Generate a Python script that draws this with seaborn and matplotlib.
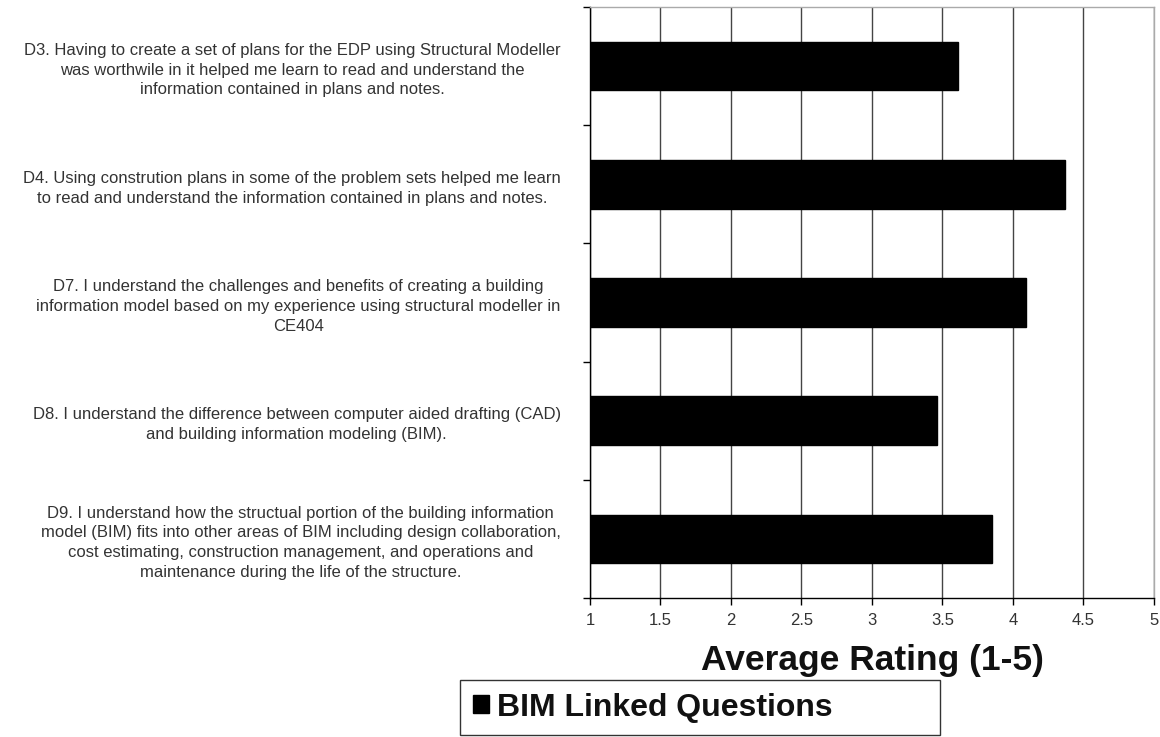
import matplotlib
matplotlib.use("Agg")
import matplotlib.pyplot as plt
import seaborn as sns
import pandas as pd
import numpy as np

# Data
questions = [
    "D3. Having to create a set of plans for the EDP using Structural Modeller\n"
    "was worthwile in it helped me learn to read and understand the\n"
    "information contained in plans and notes.",
    "D4. Using constrution plans in some of the problem sets helped me learn\n"
    "to read and understand the information contained in plans and notes.",
    "D7. I understand the challenges and benefits of creating a building\n"
    "information model based on my experience using structural modeller in\n"
    "CE404",
    "D8. I understand the difference between computer aided drafting (CAD)\n"
    "and building information modeling (BIM).",
    "D9. I understand how the structual portion of the building information\n"
    "model (BIM) fits into other areas of BIM including design collaboration,\n"
    "cost estimating, construction management, and operations and\n"
    "maintenance during the life of the structure.",
]
ratings = [3.61, 4.37, 4.09, 3.46, 3.85]
x_ticks = [1, 1.5, 2, 2.5, 3, 3.5, 4, 4.5, 5]
x_tick_labels = ["1", "1.5", "2", "2.5", "3", "3.5", "4", "4.5", "5"]

df = pd.DataFrame({"question": questions, "rating": ratings})

sns.set_style("white")
plt.rcParams["font.family"] = ["Liberation Sans", "DejaVu Sans"]

fig = plt.figure(figsize=(11.6, 7.37), dpi=100)
ax = fig.add_axes([0.5086, 0.1886, 0.4862, 0.8019])

sns.barplot(data=df, x="rating", y="question", orient="h", color="black",
            width=0.41, saturation=1, edgecolor="black",
            label="BIM Linked Questions", ax=ax, zorder=3)
if ax.get_legend() is not None:
    ax.get_legend().remove()

ax.set_xlim(1, 5)
ax.set_ylim(4.5, -0.5)
ax.set_xticks(x_ticks)
ax.set_xticklabels(x_tick_labels, fontsize=12, color="#333333")
ax.xaxis.grid(True, color="#444444", linewidth=1.0, zorder=0)
ax.yaxis.grid(False)

# y labels, with tick marks between the categories
ax.set_yticks(range(len(questions)))
ax.set_yticklabels(questions, fontsize=12, color="#333333", ma="center",
                   linespacing=1.4)
ax.tick_params(axis="y", length=0, pad=21)
ax.set_yticks(np.arange(-0.5, 5, 1), minor=True)
ax.tick_params(axis="y", which="minor", length=5, width=1, color="black",
               direction="out", left=True)
ax.tick_params(axis="x", length=5, width=1, color="black", direction="out",
               bottom=True, pad=6)

ax.set_xlabel("Average Rating (1-5)", fontsize=25.5, fontweight="bold",
              labelpad=11, color="#111111")
ax.set_ylabel("")

for side in ["left", "bottom"]:
    ax.spines[side].set_color("black")
    ax.spines[side].set_linewidth(1.0)
for side in ["top", "right"]:
    ax.spines[side].set_color("#aaaaaa")
    ax.spines[side].set_linewidth(1.0)

# legend box under the axis label
handles, labels = ax.get_legend_handles_labels()
leg = fig.legend(handles[:1], labels[:1], loc="center left",
                 bbox_to_anchor=(0.3966, 0.0027, 0.4138, 0.0746),
                 mode="expand", borderaxespad=0, frameon=True, fancybox=False,
                 edgecolor="black", handlelength=0.5, handleheight=0.5,
                 handletextpad=0.25, borderpad=0.4,
                 prop={"size": 23, "weight": "bold"})
leg.get_frame().set_linewidth(1.0)
for t in leg.get_texts():
    t.set_color("#111111")

fig.savefig("out.png", dpi=100)
